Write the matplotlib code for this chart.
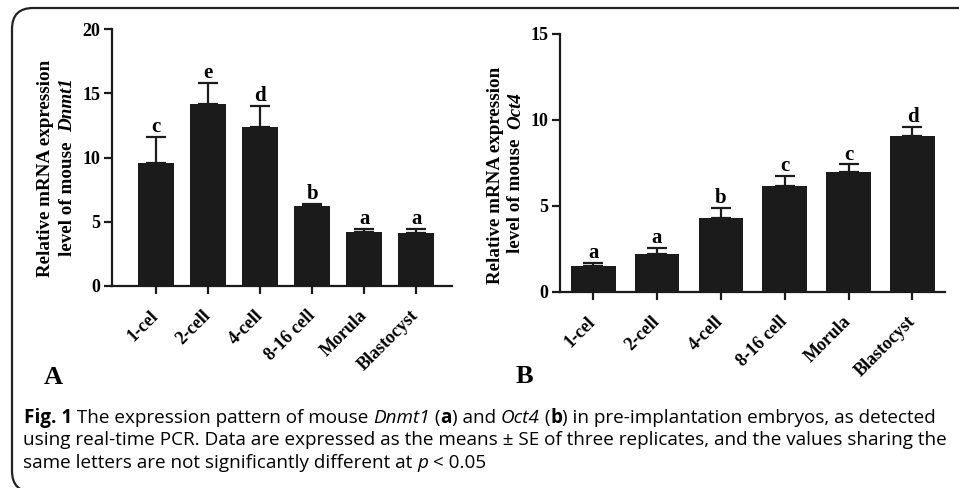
import numpy as np
import matplotlib
matplotlib.use("Agg")
import matplotlib.pyplot as plt
from matplotlib.patches import FancyBboxPatch

# data
stages = ["1-cel", "2-cell", "4-cell", "8-16 cell", "Morula", "Blastocyst"]

dnmt1_mean = [9.55, 14.19, 12.35, 6.23, 4.18, 4.12]
dnmt1_se = [2.02, 1.63, 1.68, 0.17, 0.28, 0.32]
dnmt1_letters = ["c", "e", "d", "b", "a", "a"]

oct4_mean = [1.53, 2.19, 4.28, 6.17, 6.99, 9.08]
oct4_se = [0.17, 0.38, 0.60, 0.58, 0.42, 0.52]
oct4_letters = ["a", "a", "b", "c", "c", "d"]

serif = "Liberation Serif"
sans = "Open Sans"
W, H = 959, 488

fig = plt.figure(figsize=(9.59, 4.88), dpi=100)
renderer = fig.canvas.get_renderer()


def px(x, y):
    # pixel position (top-left origin) -> figure fraction
    return x / W, 1 - y / H


def runs(x, y, parts, size, family, rotation=0):
    # draw a line of mixed style text piece by piece, x/y in pixels
    total = []
    for s, w, st in parts:
        t = fig.text(0, 0, s, fontsize=size, family=family, weight=w, style=st)
        bb = t.get_window_extent(renderer)
        total.append(bb.width)
        t.remove()
    pos = 0
    for (s, w, st), wd in zip(parts, total):
        if rotation == 0:
            fx, fy = px(x + pos, y)
            fig.text(fx, fy, s, fontsize=size, family=family, weight=w,
                     style=st, ha="left", va="baseline")
        else:
            # x is centre of line, y is centre of the text along the line
            start = y + sum(total) / 2
            fx, fy = px(x, start - pos)
            fig.text(fx, fy, s, fontsize=size, family=family, weight=w,
                     style=st, ha="left", va="center", rotation=90,
                     rotation_mode="anchor")
        pos += wd


def panel(rect, means, ses, letters, ymax, xlim):
    ax = fig.add_axes(rect)
    x = np.arange(len(stages))
    ax.bar(x, means, width=0.7, color="#1b1b1b", zorder=2)
    ax.errorbar(x, means, yerr=[np.zeros(len(ses)), ses], fmt="none",
                ecolor="#1b1b1b", elinewidth=1.6, capsize=7, capthick=1.6,
                zorder=1)
    for xi, m, s, l in zip(x, means, ses, letters):
        ax.annotate(l, (xi, m + s), xytext=(0, 3.5), textcoords="offset points",
                    ha="center", va="baseline", fontsize=15, family=serif,
                    weight="bold")
    ax.set_ylim(0, ymax)
    ax.set_yticks(np.arange(0, ymax + 1, 5))
    ax.set_xlim(*xlim)
    ax.set_xticks(x)
    ax.set_xticklabels(stages, rotation=45, ha="right", va="center",
                       rotation_mode="anchor")
    for sp in ["top", "right"]:
        ax.spines[sp].set_visible(False)
    for sp in ["left", "bottom"]:
        ax.spines[sp].set_linewidth(1.6)
        ax.spines[sp].set_color("#1b1b1b")
    ax.tick_params(length=5.5, width=1.6, color="#1b1b1b", pad=3)
    ax.tick_params(axis="x", pad=14)
    for lab in ax.get_xticklabels() + ax.get_yticklabels():
        lab.set_family(serif)
        lab.set_weight("bold")
        lab.set_fontsize(13)
    return ax


axA = panel([112 / W, 1 - 286 / H, 340 / W, 257 / H],
            dnmt1_mean, dnmt1_se, dnmt1_letters, 20, (-0.85, 5.69))
axB = panel([560 / W, 1 - 292 / H, 385 / W, 258.3 / H],
            oct4_mean, oct4_se, oct4_letters, 15, (-0.52, 5.51))

# y labels (two lines, gene name italic)
ysize = 13.7
runs(45, 168, [("Relative mRNA expression", "bold", "normal")], ysize, serif, rotation=90)
runs(68, 167, [("level of mouse  ", "bold", "normal"), ("Dnmt1", "bold", "italic")],
     ysize, serif, rotation=90)
runs(495, 175, [("Relative mRNA expression", "bold", "normal")], ysize, serif, rotation=90)
runs(516, 173, [("level of mouse  ", "bold", "normal"), ("Oct4", "bold", "italic")],
     ysize, serif, rotation=90)

# panel letters
fig.text(*px(44, 384), "A", fontsize=19, family=serif, weight="bold", va="baseline")
fig.text(*px(516, 383), "B", fontsize=19, family=serif, weight="bold", va="baseline")

# caption
cap = 13.6
runs(24, 423, [("Fig. 1", "bold", "normal"),
               (" The expression pattern of mouse ", "normal", "normal"),
               ("Dnmt1", "normal", "italic"), (" (", "normal", "normal"),
               ("a", "bold", "normal"), (") and ", "normal", "normal"),
               ("Oct4", "normal", "italic"), (" (", "normal", "normal"),
               ("b", "bold", "normal"),
               (") in pre-implantation embryos, as detected", "normal", "normal")],
     cap, sans)
runs(23, 445, [("using real-time PCR. Data are expressed as the means \u00b1 SE of three "
                "replicates, and the values sharing the", "normal", "normal")], cap, sans)
runs(23, 468, [("same letters are not significantly different at ", "normal", "normal"),
               ("p", "normal", "italic"), (" < 0.05", "normal", "normal")], cap, sans)

# rounded frame around the figure (right and bottom edges run off the image)
frame = FancyBboxPatch((12 / W, -4 / H), 1.2, (H - 8 + 4) / H,
                       boxstyle="round,pad=0,rounding_size=0.022",
                       transform=fig.transFigure, fill=False,
                       edgecolor="#222222", linewidth=1.6, mutation_aspect=W / H)
fig.patches.append(frame)

fig.savefig("out.png", dpi=100)
